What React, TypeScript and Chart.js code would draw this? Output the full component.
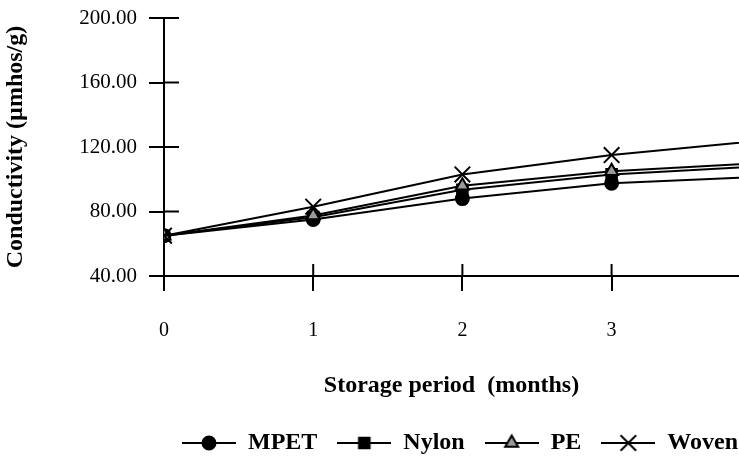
import React, { useEffect, useRef } from "react";
import { Chart, registerables } from "chart.js";

Chart.register(...registerables);

// ---- data ----
const months = [0, 1, 2, 3, 4];
const xTickLabels = ["0", "1", "2", "3"];
const yTickValues = [40, 80, 120, 160, 200];
const mpet = [65, 75, 88, 97.5, 101.5];
const nylon = [65, 76.5, 93.5, 103, 108];
const pe = [65, 77.5, 96, 105, 110];
const woven = [65, 83, 103, 115, 124];
const seriesNames = ["MPET", "Nylon", "PE", "Woven"];

const SERIF = "'Liberation Serif', 'Times New Roman', Times, serif";

type MarkerKind = "circle" | "rect" | "triangle" | "crossRot";

function drawMarker(ctx: CanvasRenderingContext2D, kind: MarkerKind, x: number, y: number, r: number, fill: string) {
  ctx.save();
  ctx.strokeStyle = "#000";
  ctx.fillStyle = fill;
  ctx.lineWidth = 2;
  ctx.beginPath();
  if (kind === "circle") {
    ctx.arc(x, y, r, 0, Math.PI * 2);
    ctx.fill();
    ctx.stroke();
  } else if (kind === "rect") {
    const s = r * Math.SQRT1_2;
    ctx.rect(x - s, y - s, 2 * s, 2 * s);
    ctx.fill();
    ctx.stroke();
  } else if (kind === "triangle") {
    for (let i = 0; i < 3; i++) {
      const a = (i * 2 * Math.PI) / 3;
      const px = x + Math.sin(a) * r;
      const py = y - Math.cos(a) * r;
      if (i === 0) ctx.moveTo(px, py);
      else ctx.lineTo(px, py);
    }
    ctx.closePath();
    ctx.fill();
    ctx.stroke();
  } else {
    const o = r * Math.SQRT1_2;
    ctx.moveTo(x - o, y - o);
    ctx.lineTo(x + o, y + o);
    ctx.moveTo(x - o, y + o);
    ctx.lineTo(x + o, y - o);
    ctx.stroke();
  }
  ctx.restore();
}

function makeLegendIcon(kind: MarkerKind, r: number, fill: string): HTMLCanvasElement {
  const c = document.createElement("canvas");
  c.width = 54;
  c.height = 22;
  const ctx = c.getContext("2d")!;
  ctx.strokeStyle = "#000";
  ctx.lineWidth = 2;
  ctx.beginPath();
  ctx.moveTo(0, 11);
  ctx.lineTo(54, 11);
  ctx.stroke();
  drawMarker(ctx, kind, 27, 11, r, fill);
  return c;
}

const styles: { kind: MarkerKind; r: number; fill: string }[] = [
  { kind: "circle", r: 6.5, fill: "#000" },
  { kind: "rect", r: 7.5, fill: "#000" },
  { kind: "triangle", r: 7.5, fill: "#9a9a9a" },
  { kind: "crossRot", r: 11, fill: "#000" },
];

const innerTicks = {
  id: "innerTicks",
  beforeDatasetsDraw(chart: any) {
    const { ctx, chartArea, scales } = chart;
    ctx.save();
    ctx.strokeStyle = "#000";
    ctx.lineWidth = 2;
    const xs = scales.x;
    xs.ticks.forEach((_t: any, i: number) => {
      const px = xs.getPixelForTick(i);
      ctx.beginPath();
      ctx.moveTo(px, chartArea.bottom);
      ctx.lineTo(px, chartArea.bottom - 12);
      ctx.stroke();
    });
    const ys = scales.y;
    ys.ticks.forEach((_t: any, i: number) => {
      const py = ys.getPixelForTick(i);
      ctx.beginPath();
      ctx.moveTo(chartArea.left, py);
      ctx.lineTo(chartArea.left + 15, py);
      ctx.stroke();
    });
    ctx.restore();
  },
};

const legendShift = {
  id: "legendShift",
  afterLayout(chart: any) {
    const lg = chart.legend;
    if (lg) {
      lg.left += 19;
      lg.right += 19;
    }
  },
};

export default function App() {
  const ref = useRef<HTMLCanvasElement | null>(null);

  useEffect(() => {
    document.body.style.margin = "0";
    const canvas = ref.current!;
    const seriesValues = [mpet, nylon, pe, woven];
    const datasets = seriesNames.map((name, i) => ({
      label: name,
      data: months.map((m, j) => ({ x: m, y: seriesValues[i][j] })),
      borderColor: "#000",
      borderWidth: 2,
      backgroundColor: styles[i].fill,
      pointBackgroundColor: styles[i].fill,
      pointBorderColor: "#000",
      pointBorderWidth: 2,
      pointStyle: styles[i].kind,
      pointRadius: styles[i].r,
      tension: 0,
      fill: false,
      order: 4 - i,
    }));
    const icons = styles.map((s) => makeLegendIcon(s.kind, s.r, s.fill));

    const chart = new Chart(canvas, {
      type: "line",
      data: { datasets },
      plugins: [innerTicks, legendShift],
      options: {
        animation: false,
        responsive: false,
        devicePixelRatio: 1,
        layout: { autoPadding: false, padding: { top: 18, right: 0, bottom: 0, left: 0 } },
        plugins: {
          tooltip: { enabled: false },
          legend: {
            display: true,
            position: "bottom",
            align: "end",
            labels: {
              usePointStyle: true,
              pointStyleWidth: 54,
              padding: 20,
              color: "#000",
              font: { family: SERIF, size: 24, weight: "bold" },
              generateLabels: () =>
                seriesNames.map((name, i) => ({
                  text: name,
                  pointStyle: icons[i],
                  fillStyle: "#000",
                  strokeStyle: "#000",
                  lineWidth: 0,
                  hidden: false,
                  datasetIndex: i,
                  fontColor: "#000",
                })),
            },
          },
        },
        scales: {
          x: {
            type: "linear",
            min: 0,
            max: 3.854,
            afterFit: (s: any) => {
              s.height = 135;
              s.paddingLeft = 0;
              s.paddingRight = 0;
            },
            border: { display: true, color: "#000", width: 2 },
            grid: { display: true, drawOnChartArea: false, drawTicks: true, tickLength: 15, color: "#000", lineWidth: 2 },
            ticks: {
              stepSize: 1,
              includeBounds: false,
              autoSkip: false,
              maxRotation: 0,
              padding: 28,
              color: "#000",
              font: { family: SERIF, size: 20 },
              callback: (v: any) => {
                const idx = xTickLabels.indexOf(String(v));
                return idx >= 0 ? xTickLabels[idx] : "";
              },
            },
            title: {
              display: true,
              text: "Storage period  (months)",
              color: "#000",
              font: { family: SERIF, size: 24, weight: "bold" },
              padding: { top: 0, bottom: 11 },
            },
          },
          y: {
            type: "linear",
            min: yTickValues[0],
            max: yTickValues[yTickValues.length - 1],
            afterFit: (s: any) => {
              s.width = 164;
              s.paddingTop = 0;
              s.paddingBottom = 0;
            },
            afterBuildTicks: (s: any) => {
              s.ticks = yTickValues.map((v) => ({ value: v }));
            },
            border: { display: true, color: "#000", width: 2 },
            grid: { display: true, drawOnChartArea: false, drawTicks: true, tickLength: 15, color: "#000", lineWidth: 2 },
            ticks: {
              padding: 12,
              color: "#000",
              font: { family: SERIF, size: 21 },
              callback: (v: any) => Number(v).toFixed(2),
            },
            title: {
              display: true,
              text: "Conductivity (µmhos/g)",
              color: "#000",
              font: { family: SERIF, size: 24, weight: "bold" },
              padding: { top: 1, bottom: 0 },
            },
          },
        },
      },
    });
    return () => chart.destroy();
  }, []);

  return (
    <div style={{ width: 739, height: 465, background: "#fff" }}>
      <canvas ref={ref} width={739} height={465} style={{ display: "block" }} />
    </div>
  );
}
